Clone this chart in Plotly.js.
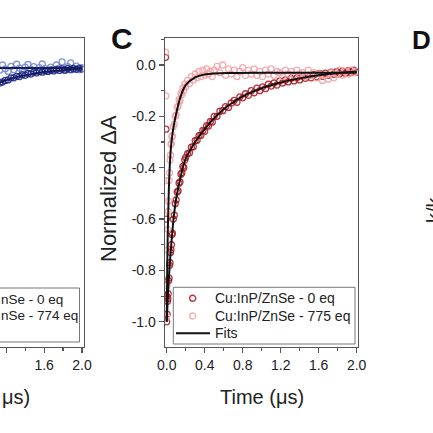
<!DOCTYPE html>
<html>
<head>
<meta charset="utf-8">
<script src="https://cdn.plot.ly/plotly-3.0.1.min.js"></script>
<style>html,body{margin:0;padding:0;background:#fff;}#chart{width:433px;height:433px;}</style>
</head>
<body>
<div id="chart"></div>
<script>
// ---------- Panel C data ----------
const time = [-0.012, -0.008, -0.005, -0.002, 0, 0.004, 0.008, 0.012, 0.016, 0.02,
  0.025, 0.03, 0.035, 0.04, 0.045, 0.05, 0.055, 0.06,
  0.07, 0.08, 0.09, 0.10, 0.11, 0.12, 0.13, 0.14, 0.15, 0.16, 0.17, 0.18, 0.19, 0.20,
  0.22, 0.24, 0.26, 0.28, 0.30, 0.32, 0.34, 0.36, 0.38, 0.40, 0.42, 0.44, 0.46, 0.48, 0.50,
  0.53, 0.56, 0.59, 0.62, 0.65, 0.68, 0.71, 0.74, 0.77, 0.80,
  0.83, 0.86, 0.89, 0.92, 0.95, 0.98, 1.01, 1.04, 1.07, 1.10,
  1.13, 1.16, 1.19, 1.22, 1.25, 1.28, 1.31, 1.34, 1.37, 1.40,
  1.43, 1.46, 1.49, 1.52, 1.55, 1.58, 1.61, 1.64, 1.67, 1.70,
  1.73, 1.76, 1.79, 1.82, 1.85, 1.88, 1.91, 1.94, 1.97, 2.00];

const eq0 = [0.03, -0.25, -0.6, -0.9, -1.0, -0.97, -0.92, -0.91, -0.89, -0.84,
  -0.83, -0.78, -0.77, -0.73, -0.72, -0.70, -0.66, -0.655,
  -0.60, -0.585, -0.54, -0.525, -0.495, -0.49, -0.46, -0.455, -0.425, -0.42, -0.395, -0.40, -0.37, -0.36,
  -0.345, -0.342, -0.32, -0.318, -0.295, -0.293, -0.275, -0.274, -0.255, -0.258, -0.236, -0.238, -0.22, -0.222, -0.20,
  -0.20, -0.18, -0.178, -0.162, -0.165, -0.148, -0.138, -0.145, -0.124, -0.128,
  -0.112, -0.118, -0.10, -0.108, -0.09, -0.10, -0.085, -0.092, -0.075, -0.082,
  -0.07, -0.078, -0.062, -0.07, -0.058, -0.066, -0.052, -0.062, -0.05, -0.058,
  -0.045, -0.052, -0.04, -0.05, -0.038, -0.046, -0.033, -0.044, -0.032, -0.04,
  -0.028, -0.036, -0.026, -0.034, -0.024, -0.032, -0.022, -0.03, -0.02, -0.028];

const eq775 = [0.05, -0.12, -0.45, -0.85, -0.98, -0.86, -0.72, -0.64, -0.57, -0.53,
  -0.45, -0.42, -0.37, -0.35, -0.31, -0.305, -0.28, -0.275,
  -0.24, -0.23, -0.20, -0.195, -0.165, -0.16, -0.135, -0.14, -0.11, -0.115, -0.09, -0.10, -0.075, -0.085,
  -0.06, -0.072, -0.045, -0.058, -0.035, -0.05, -0.025, -0.045, -0.02, -0.04, -0.015, -0.035, -0.025, -0.045, -0.02,
  -0.005, -0.03, 0.0, -0.04, -0.015, -0.035, -0.02, -0.045, -0.025, -0.01,
  -0.04, -0.02, -0.035, -0.015, -0.04, -0.025, -0.045, -0.02, -0.035, -0.015,
  -0.04, -0.025, -0.03, -0.045, -0.02, -0.035, -0.025, -0.04, -0.02, -0.035,
  -0.03, -0.045, -0.02, -0.04, -0.03, -0.05, -0.035, -0.06, -0.04, -0.055,
  -0.03, -0.05, -0.035, -0.02, -0.04, -0.025, -0.035, -0.02, -0.03, -0.025];

const fitTime0 = [0, 0.01, 0.02, 0.03, 0.05, 0.075, 0.1, 0.15, 0.2, 0.3, 0.4, 0.5, 0.6, 0.7, 0.8, 1.0, 1.2, 1.4, 1.6, 1.8, 2.0];
const fit0 = [-1.0, -0.92, -0.85, -0.79, -0.69, -0.59, -0.52, -0.43, -0.365, -0.30, -0.25, -0.207, -0.172, -0.145, -0.122, -0.09, -0.068, -0.052, -0.040, -0.031, -0.025];
const fitTime775 = [0, 0.005, 0.01, 0.02, 0.03, 0.045, 0.06, 0.08, 0.1, 0.14, 0.2, 0.3, 0.4, 0.5, 0.7, 1.0, 1.5, 2.0];
const fit775 = [-1.0, -0.82, -0.68, -0.52, -0.41, -0.32, -0.27, -0.225, -0.19, -0.13, -0.078, -0.048, -0.037, -0.033, -0.031, -0.030, -0.030, -0.030];

// ---------- Left (partial) panel data ----------
const blueTime = [1.10, 1.13, 1.16, 1.19, 1.22, 1.25, 1.28, 1.31, 1.34, 1.37, 1.40,
  1.43, 1.46, 1.49, 1.52, 1.55, 1.58, 1.61, 1.64, 1.67, 1.70,
  1.73, 1.76, 1.79, 1.82, 1.85, 1.88, 1.91, 1.94, 1.97, 2.00];
const blueEq0 = [-0.078, -0.07, -0.066, -0.06, -0.058, -0.05, -0.05, -0.044, -0.045, -0.038, -0.04,
  -0.033, -0.035, -0.028, -0.031, -0.025, -0.028, -0.022, -0.025, -0.019, -0.023,
  -0.017, -0.021, -0.015, -0.02, -0.014, -0.018, -0.013, -0.017, -0.012, -0.016];
const blueEq774 = [-0.005, -0.02, 0.0, -0.015, -0.025, -0.005, -0.018, 0.003, -0.012, -0.022, -0.008,
  0.002, -0.016, -0.006, -0.02, -0.01, 0.004, -0.014, -0.024, -0.008, -0.018,
  0.0, -0.012, 0.012, -0.02, -0.006, 0.008, -0.016, -0.004, -0.018, -0.01];
const blueFitTime = [1.1, 1.2, 1.3, 1.4, 1.5, 1.6, 1.7, 1.8, 1.9, 2.0];
const blueFit0 = [-0.072, -0.059, -0.048, -0.040, -0.033, -0.027, -0.023, -0.020, -0.017, -0.015];
const blueFit774 = [-0.012, -0.012, -0.012, -0.012, -0.012, -0.012, -0.012, -0.012, -0.012, -0.012];

// ---------- Tick labels and legend text ----------
const xTickVals = [0, 0.4, 0.8, 1.2, 1.6, 2.0];
const xTickText = ['0.0', '0.4', '0.8', '1.2', '1.6', '2.0'];
const leftTickVals = [1.2, 1.6, 2.0];
const leftTickText = ['1.2', '1.6', '2.0'];
const yTickVals = [0, -0.2, -0.4, -0.6, -0.8, -1.0];
const yTickText = ['0.0', '-0.2', '-0.4', '-0.6', '-0.8', '-1.0'];
const legendNames = ['Cu:InP/ZnSe - 0 eq', 'Cu:InP/ZnSe - 775 eq', 'Fits'];
const leftLegendVisible = ['nSe - 0 eq', 'nSe - 774 eq'];

const W = 433, H = 433;
const px = v => v / W;
const py = v => 1 - v / H;
const FONT = 'Liberation Sans, Arial, sans-serif';
const AXC = '#555';
const RED = 'rgba(168,22,32,0.85)';
const PINK = 'rgba(240,160,166,0.85)';

const traces = [
  {x: time, y: eq0, xaxis: 'x', yaxis: 'y', mode: 'markers', name: legendNames[0],
   marker: {symbol: 'circle-open', size: 6, color: RED, line: {width: 1.3}}},
  {x: time, y: eq775, xaxis: 'x', yaxis: 'y', mode: 'markers', name: legendNames[1],
   marker: {symbol: 'circle-open', size: 6, color: PINK, line: {width: 1.3}}},
  {x: fitTime0, y: fit0, xaxis: 'x', yaxis: 'y', mode: 'lines', name: legendNames[2],
   line: {color: '#111', width: 2, shape: 'spline'}},
  {x: fitTime775, y: fit775, xaxis: 'x', yaxis: 'y', mode: 'lines', name: legendNames[2],
   line: {color: '#111', width: 2, shape: 'spline'}},
  {x: blueTime, y: blueEq774, xaxis: 'x2', yaxis: 'y2', mode: 'markers', name: 'Cu:InP/ZnSe - 774 eq',
   marker: {symbol: 'circle-open', size: 6, color: 'rgba(110,130,210,0.85)', line: {width: 1.3}}},
  {x: blueTime, y: blueEq0, xaxis: 'x2', yaxis: 'y2', mode: 'markers', name: 'Cu:InP/ZnSe - 0 eq',
   marker: {symbol: 'circle-open', size: 6, color: 'rgba(28,36,130,0.85)', line: {width: 1.3}}},
  {x: blueFitTime, y: blueFit774, xaxis: 'x2', yaxis: 'y2', mode: 'lines', name: 'Fits',
   line: {color: '#141c5a', width: 2}},
  {x: blueFitTime, y: blueFit0, xaxis: 'x2', yaxis: 'y2', mode: 'lines', name: 'Fits',
   line: {color: '#141c5a', width: 2, shape: 'spline'}}
];

const tickFont = {family: FONT, size: 14, color: '#222'};
const yDomain = [py(346.7), py(38.3)];
const txt = (text, x, y, opts) => Object.assign({text: text, x: px(x), y: py(y), xref: 'paper', yref: 'paper',
  showarrow: false, xanchor: 'center', yanchor: 'middle', font: {family: FONT, size: 14, color: '#222'}}, opts || {});

const layout = {
  width: W, height: H,
  margin: {l: 0, r: 0, t: 0, b: 0, autoexpand: false},
  paper_bgcolor: '#fff', plot_bgcolor: '#fff',
  font: {family: FONT, color: '#222'},
  showlegend: false,
  xaxis: {domain: [px(164.8), px(358.1)], range: [-0.02, 2.015], anchor: 'y',
    tickmode: 'array', tickvals: xTickVals, ticktext: xTickText,
    ticks: 'outside', ticklen: 5, tickwidth: 1.2, tickcolor: AXC,
    minor: {dtick: 0.2, tick0: 0, ticks: 'outside', ticklen: 3, tickcolor: AXC, showgrid: false},
    showline: true, mirror: true, linecolor: AXC, linewidth: 1.2,
    showgrid: false, zeroline: false, tickfont: tickFont},
  yaxis: {domain: yDomain, range: [-1.097, 0.104], anchor: 'x',
    tickmode: 'array', tickvals: yTickVals, ticktext: yTickText,
    ticks: 'outside', ticklen: 5, tickwidth: 1.2, tickcolor: AXC,
    minor: {dtick: 0.1, tick0: 0, ticks: 'outside', ticklen: 3, tickcolor: AXC, showgrid: false},
    showline: true, mirror: true, linecolor: AXC, linewidth: 1.2,
    showgrid: false, zeroline: false, tickfont: tickFont},
  xaxis2: {domain: [0, px(83.5)], range: [1.134, 2.016], anchor: 'y2',
    tickmode: 'array', tickvals: leftTickVals, ticktext: leftTickText,
    ticks: 'outside', ticklen: 5, tickwidth: 1.2, tickcolor: AXC,
    minor: {dtick: 0.2, tick0: 0, ticks: 'outside', ticklen: 3, tickcolor: AXC, showgrid: false},
    showline: true, mirror: true, linecolor: AXC, linewidth: 1.2,
    showgrid: false, zeroline: false, tickfont: tickFont},
  yaxis2: {domain: yDomain, range: [-1.097, 0.104], anchor: 'x2', side: 'right',
    showline: true, linecolor: AXC, linewidth: 1.2, ticks: '', showticklabels: false,
    showgrid: false, zeroline: false},
  shapes: [
    {type: 'rect', xref: 'paper', yref: 'paper', x0: px(173.3), x1: px(355), y0: py(344), y1: py(287.3),
     line: {color: '#777', width: 1}, fillcolor: '#fff', layer: 'above'},
    {type: 'circle', xref: 'paper', yref: 'paper', x0: px(189.7), x1: px(195.7), y0: py(301.3), y1: py(295.3),
     line: {color: RED, width: 1.4}, layer: 'above'},
    {type: 'circle', xref: 'paper', yref: 'paper', x0: px(189.7), x1: px(195.7), y0: py(319), y1: py(313),
     line: {color: PINK, width: 1.4}, layer: 'above'},
    {type: 'line', xref: 'paper', yref: 'paper', x0: px(176), x1: px(210), y0: py(333.3), y1: py(333.3),
     line: {color: '#111', width: 2}, layer: 'above'},
    {type: 'rect', xref: 'paper', yref: 'paper', x0: px(-20), x1: px(79.5), y0: py(342), y1: py(288),
     line: {color: '#777', width: 1}, fillcolor: '#fff', layer: 'above'}
  ],
  annotations: [
    txt('<b>C</b>', 121.5, 39, {font: {family: FONT, size: 30, color: '#111'}}),
    txt('<b>D</b>', 433, 40, {xanchor: 'right', font: {family: FONT, size: 26, color: '#111'}}),
    txt('Normalized ΔA', 109, 189, {textangle: -90, font: {family: FONT, size: 22, color: '#222'}}),
    txt('Time (μs)', 262, 397, {font: {family: FONT, size: 20, color: '#222'}}),
    txt('μs)', 0, 397, {xanchor: 'left', font: {family: FONT, size: 20, color: '#222'}}),
    txt('k/k', 434, 210, {textangle: -90, font: {family: FONT, size: 20, color: '#222'}}),
    txt(legendNames[0], 213.3, 298.3, {xanchor: 'left'}),
    txt(legendNames[1], 213.3, 316, {xanchor: 'left'}),
    txt(legendNames[2], 213.3, 333.3, {xanchor: 'left'}),
    txt(leftLegendVisible[0], -1, 299, {xanchor: 'left', font: {family: FONT, size: 13.5, color: '#222'}}),
    txt(leftLegendVisible[1], -1, 315.5, {xanchor: 'left', font: {family: FONT, size: 13.5, color: '#222'}})
  ]
};

Plotly.newPlot('chart', traces, layout, {displayModeBar: false, staticPlot: true});
</script>
</body>
</html>
